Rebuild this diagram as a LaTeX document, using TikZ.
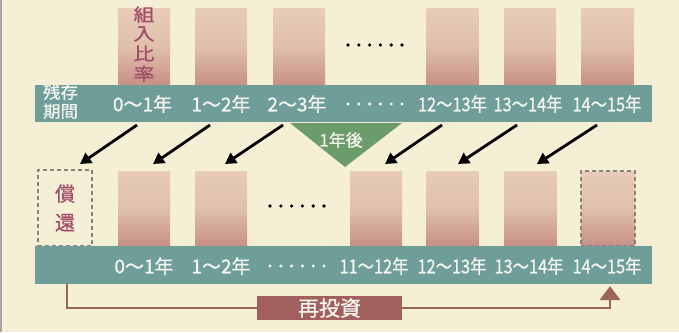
\documentclass[tikz,border=0pt]{standalone}
\usepackage{fontspec}
\newfontfamily\jp[FakeBold=0.7]{Noto Sans CJK JP}
\usetikzlibrary{arrows.meta}
\definecolor{bgc}{HTML}{F5EFD6}
\definecolor{teal}{HTML}{6F9E9A}
\definecolor{barTop}{HTML}{E7CCB7}
\definecolor{barMid}{HTML}{E0C0AC}
\definecolor{barBot}{HTML}{C78F86}
\definecolor{maroon}{HTML}{A24E6A}
\definecolor{greentri}{HTML}{6C9B6C}
\definecolor{brownline}{HTML}{9C6656}
\definecolor{brownbox}{HTML}{A1605E}
\definecolor{dashc}{HTML}{8E8276}
\definecolor{labw}{HTML}{F6F6F0}
\begin{document}
\begin{tikzpicture}[x=1pt,y=-1pt,
  bar/.style={inner sep=0pt, minimum width=52pt, top color=barTop, bottom color=barBot, middle color=barMid},
  topbar/.style={bar, minimum height=77pt},
  botbar/.style={bar, minimum height=75pt},
  band/.style={fill=teal, inner sep=0pt, minimum width=617pt},
  lab/.style={text=labw, font=\jp\fontsize{19}{19}\selectfont, inner sep=0pt},
  vtext/.style={text=maroon, align=center, inner sep=0pt},
  mv/.style={-{Triangle[length=11pt,width=12pt]}, line width=2.8pt, black},
  reinv/.style={line width=2.8pt, brownline},
  dashbox/.style={draw=dashc, dash pattern=on 4pt off 3pt, line width=1.3pt, inner sep=0pt, minimum width=54pt},
  dotw/.style={fill=labw},
  dotb/.style={fill=black}
]
\useasboundingbox (0,0) rectangle (679,332);
\fill[bgc] (0,0) rectangle (679,332);
\draw[gray!70, line width=1.5pt] (0.75,0) -- (0.75,332);

% ---- top row ----
\node[topbar] (t1) at (144,46.5) {};
\node[topbar] (t2) at (221,46.5) {};
\node[topbar] (t3) at (299,46.5) {};
\node[topbar] (t4) at (452.5,46.5) {};
\node[topbar] (t5) at (530,46.5) {};
\node[topbar] (t6) at (607.5,46.5) {};
\node[vtext, font=\jp\fontsize{21}{21}\selectfont] (ratio) at (144,46) {\scalebox{1}[0.84]{\begin{tabular}{@{}c@{}}組\\入\\比\\率\end{tabular}}};
\foreach \i in {0,...,5} \fill[dotb] (348+\i*10.8,45) circle (1.8pt);

\node[band, minimum height=37pt] (tband) at (343.5,103.5) {};
\node[text=labw, inner sep=0pt, font=\jp\fontsize{17.5}{18}\selectfont] (zanzon) at (60.5,103.5) {\scalebox{1}[0.95]{\begin{tabular}{@{}c@{}}残存\\期間\end{tabular}}};
\node[lab] (l1) at (142.5,104) {0〜1年};
\node[lab] (l2) at (221,104) {1〜2年};
\node[lab] (l3) at (297,104) {2〜3年};
\foreach \i in {0,...,5} \fill[dotw] (348+\i*10.8,104) circle (1.7pt);
\node[lab] (l4) at (452.5,104) {\scalebox{0.86}[1]{12〜13年}};
\node[lab] (l5) at (528,104) {\scalebox{0.86}[1]{13〜14年}};
\node[lab] (l6) at (607,104) {\scalebox{0.86}[1]{14〜15年}};

% ---- one year later ----
\fill[greentri] (290,123) -- (402,123) -- (345,167) -- cycle;
\node[text=labw, inner sep=0pt, font=\jp\fontsize{17}{17}\selectfont] (later) at (341,140) {1年後};

% ---- arrows ----
\coordinate (a1s) at (137,125); \coordinate (a1e) at (80,164);
\coordinate (a2s) at (210,125); \coordinate (a2e) at (153,164);
\coordinate (a3s) at (283,125); \coordinate (a3e) at (225,164);
\coordinate (a4s) at (442,125); \coordinate (a4e) at (385,164);
\coordinate (a5s) at (517,125); \coordinate (a5e) at (458,164);
\coordinate (a6s) at (597,125); \coordinate (a6e) at (537,164);
\foreach \i in {1,...,6} \draw[mv] (a\i s) -- (a\i e);

% ---- bottom row ----
\node[dashbox, minimum height=76pt, vtext, font=\jp\fontsize{20}{29}\selectfont] (redeem) at (65,208) {償\\還};
\node[botbar] (b1) at (144,208.5) {};
\node[botbar] (b2) at (221,208.5) {};
\foreach \i in {0,...,5} \fill[dotb] (270+\i*10.8,206) circle (1.8pt);
\node[botbar] (b3) at (376,208.5) {};
\node[botbar] (b4) at (452.5,208.5) {};
\node[botbar] (b5) at (530.5,208.5) {};
\node[botbar, dashbox, minimum height=75pt] (b6) at (608,208.5) {};

\node[band, minimum height=38pt] (bband) at (343.5,265) {};
\node[lab] (m1) at (144,266) {0〜1年};
\node[lab] (m2) at (221,266) {1〜2年};
\foreach \i in {0,...,5} \fill[dotw] (270+\i*10.8,266) circle (1.7pt);
\node[lab] (m3) at (374,266) {\scalebox{0.86}[1]{11〜12年}};
\node[lab] (m4) at (452,266) {\scalebox{0.86}[1]{12〜13年}};
\node[lab] (m5) at (529,266) {\scalebox{0.86}[1]{13〜14年}};
\node[lab] (m6) at (607,266) {\scalebox{0.86}[1]{14〜15年}};

% ---- reinvestment ----
\node[fill=brownbox, text=labw, inner sep=0pt, minimum width=145pt, minimum height=24pt, font=\jp\fontsize{21}{21}\selectfont] (reinvest) at (329.5,308) {再投資};
\coordinate (rstart) at (67,284);
\coordinate (rend) at (610,286);
\draw[reinv] (rstart) |- (reinvest.west);
\draw[reinv, -{Triangle[length=14pt,width=20pt]}] (reinvest.east) -| (rend);
\end{tikzpicture}
\end{document}
